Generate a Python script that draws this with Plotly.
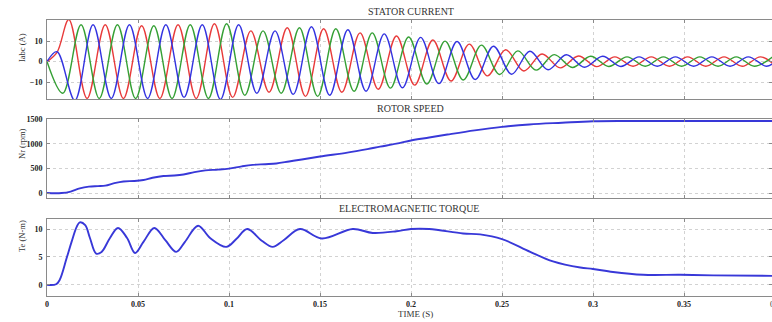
import plotly.graph_objects as go

# ---------------- data ----------------
# Stator current: extrema (peaks / troughs) of each phase, time in s, current in A
ia_t = [0.0, 0.0055, 0.012, 0.022, 0.032, 0.042, 0.052, 0.062, 0.072, 0.082, 0.092, 0.102,
        0.112, 0.122, 0.132, 0.142, 0.152, 0.162, 0.172, 0.182, 0.192, 0.202, 0.212, 0.222,
        0.232, 0.242, 0.252, 0.262, 0.272, 0.282, 0.292, 0.302, 0.312, 0.322, 0.332, 0.342,
        0.352, 0.362, 0.372, 0.382, 0.392, 0.4]
ia_v = [0.0, 4.5, 20.5, -18, 18, -18, 17.5, -18, 18, -18, 18.5, -17.5,
        15, -15, 16.5, -17, 16, -15, 14, -13.5, 12.5, -11.5, 10.5, -9.5,
        8.5, -7, 5.8, -4.6, 3.7, -3.1, 2.7, -2.5, 2.3, -2.3, 2.3, -2.3,
        2.3, -2.3, 2.3, -2.3, 2.3, -1.9]

ib_t = [0.0, 0.0087, 0.0187, 0.0287, 0.0387, 0.0487, 0.0587, 0.0687, 0.0787, 0.0887, 0.0987,
        0.1087, 0.1187, 0.1287, 0.1387, 0.1487, 0.1587, 0.1687, 0.1787, 0.1887, 0.1987,
        0.2087, 0.2187, 0.2287, 0.2387, 0.2487, 0.2587, 0.2687, 0.2787, 0.2887, 0.2987,
        0.3087, 0.3187, 0.3287, 0.3387, 0.3487, 0.3587, 0.3687, 0.3787, 0.3887, 0.3987]
ib_v = [0.0, -15.5, 18, -18, 18, -18, 17.5, -18, 18, -18, 18.5,
        -16.5, 15, -15.5, 16.5, -17, 16, -14.5, 14, -13, 12,
        -11, 10, -9, 8, -6.3, 5.2, -4.2, 3.4, -2.9, 2.6,
        -2.4, 2.3, -2.3, 2.3, -2.3, 2.3, -2.3, 2.3, -2.3, 2.3]

ic_t = [0.0, 0.0055, 0.0153, 0.0253, 0.0353, 0.0453, 0.0553, 0.0653, 0.0753, 0.0853, 0.0953,
        0.1053, 0.1153, 0.1253, 0.1353, 0.1453, 0.1553, 0.1653, 0.1753, 0.1853, 0.1953,
        0.2053, 0.2153, 0.2253, 0.2353, 0.2453, 0.2553, 0.2653, 0.2753, 0.2853, 0.2953,
        0.3053, 0.3153, 0.3253, 0.3353, 0.3453, 0.3553, 0.3653, 0.3753, 0.3853, 0.3953, 0.4]
ic_v = [0.0, 4.8, -19, 18, -18, 18, -18, 18, -17.5, 18, -18.5,
        18, -15.5, 15, -16, 17, -16.5, 15.5, -14.5, 13.5, -12.8,
        11.8, -10.8, 9.8, -8.8, 7.5, -6.2, 5, -4, 3.3, -2.8,
        2.6, -2.4, 2.3, -2.3, 2.3, -2.3, 2.3, -2.3, 2.3, -2.3, -0.2]

# Rotor speed (rpm)
nr_t = [0.0, 0.008, 0.013, 0.018, 0.023, 0.028, 0.032, 0.037, 0.042, 0.048, 0.053, 0.058,
        0.064, 0.07, 0.075, 0.081, 0.087, 0.094, 0.1, 0.107, 0.113, 0.12, 0.126, 0.133,
        0.14, 0.15, 0.165, 0.176, 0.183, 0.192, 0.2, 0.21, 0.22, 0.235, 0.25, 0.265,
        0.283, 0.3, 0.32, 0.36, 0.4]
nr_v = [0, 0, 30, 95, 130, 140, 150, 200, 235, 245, 265, 310,
        345, 355, 375, 425, 460, 475, 495, 540, 570, 585, 600, 640,
        680, 740, 820, 890, 940, 1000, 1065, 1125, 1185, 1270, 1340, 1390,
        1425, 1455, 1460, 1460, 1460]

# Electromagnetic torque (N-m)
te_t = [0.0, 0.005, 0.007, 0.0108, 0.0135, 0.0163, 0.018, 0.021, 0.0236, 0.027, 0.030,
        0.0346, 0.039, 0.044, 0.0484, 0.053, 0.059, 0.065, 0.071, 0.0758, 0.083, 0.0896,
        0.0985, 0.104, 0.11, 0.118, 0.124, 0.13, 0.139, 0.151, 0.168, 0.179, 0.192, 0.2,
        0.21, 0.2286, 0.238, 0.25, 0.2655, 0.278, 0.293, 0.3, 0.311, 0.3275, 0.348,
        0.366, 0.4]
te_v = [0.0, 0.1, 0.9, 4.8, 7.7, 10.4, 11.2, 10.7, 8.4, 5.6, 5.9,
        8.4, 10.2, 8.4, 5.7, 7.7, 10.2, 8.0, 5.9, 7.7, 10.6, 8.4,
        6.8, 8.2, 10.0, 7.9, 6.8, 8.0, 10.0, 8.3, 10.0, 9.3, 9.6, 10.0,
        10.0, 9.2, 9.05, 8.2, 5.9, 4.2, 3.1, 2.85, 2.3, 1.8, 1.8,
        1.7, 1.6]

x_tickvals = [0, 0.05, 0.1, 0.15, 0.2, 0.25, 0.3, 0.35]
x_ticktext = ["0", "0.05", "0.1", "0.15", "0.2", "0.25", "0.3", "0.35"]

# ---------------- figure ----------------
W, H = 772, 322
L = 47
FONT = "Liberation Serif"

fig = go.Figure()
fig.add_trace(go.Scatter(x=ia_t, y=ia_v, mode="lines", line=dict(color="#e83a3a", width=1.4, shape="spline"),
                         xaxis="x", yaxis="y", showlegend=False))
fig.add_trace(go.Scatter(x=ib_t, y=ib_v, mode="lines", line=dict(color="#35a035", width=1.4, shape="spline"),
                         xaxis="x", yaxis="y", showlegend=False))
fig.add_trace(go.Scatter(x=ic_t, y=ic_v, mode="lines", line=dict(color="#3333e0", width=1.4, shape="spline"),
                         xaxis="x", yaxis="y", showlegend=False))
fig.add_trace(go.Scatter(x=nr_t, y=nr_v, mode="lines", line=dict(color="#3838d8", width=1.9, shape="spline"),
                         xaxis="x2", yaxis="y2", showlegend=False))
fig.add_trace(go.Scatter(x=te_t, y=te_v, mode="lines", line=dict(color="#3838d8", width=1.9, shape="spline"),
                         xaxis="x3", yaxis="y3", showlegend=False))

def dom(top_px, bot_px):
    return [1 - bot_px / H, 1 - top_px / H]

xr = [0, 0.4 * (W - L) / 728.0]
axis_common = dict(showline=True, linecolor="#8a8a8a", linewidth=1, mirror="ticks",
                   ticks="inside", ticklen=3, tickcolor="#8a8a8a",
                   showgrid=True, gridcolor="#d2d2d2", griddash="dot", gridwidth=1,
                   zeroline=False, automargin=False,
                   tickfont=dict(family=FONT, size=8, color="#222", weight="bold"))

def xax(anchor, labels):
    d = dict(axis_common)
    d.update(range=xr, domain=[0, 1], anchor=anchor, tickvals=x_tickvals,
             ticktext=x_ticktext, showticklabels=labels)
    return d

def yax(anchor, rng, tv, top_px, bot_px):
    d = dict(axis_common)
    d.update(range=rng, domain=dom(top_px, bot_px), anchor=anchor, tickvals=tv,
             ticklabelstandoff=2)
    return d

fig.update_layout(
    width=W, height=H,
    margin=dict(l=L, r=0, t=0, b=0, autoexpand=False),
    paper_bgcolor="white", plot_bgcolor="white",
    xaxis=xax("y", False),
    xaxis2=xax("y2", False),
    xaxis3=xax("y3", True),
    yaxis=yax("x", [-18.3, 20.3], [-10, 0, 10], 20, 99),
    yaxis2=yax("x2", [-100, 1500], [0, 500, 1000, 1500], 119, 198),
    yaxis3=yax("x3", [-2.0, 11.8], [0, 5, 10], 219, 296),
)

def px_x(px):
    return (px - L) / (W - L)

def px_y(py):
    return 1 - py / H

anns = [
    ("STATOR CURRENT", 411, 11, 10, 0),
    ("ROTOR SPEED", 410, 109, 10, 0),
    ("ELECTROMAGNETIC TORQUE", 409, 209, 10, 0),
    ("TIME (S)", 415, 314, 9, 0),
    ("Iabc (A)", 22, 48, 8.5, -90),
    ("Nr (rpm)", 22, 144, 8.5, -90),
    ("Te (N-m)", 22, 236, 8.5, -90),
    ("0.4", 775, 304, 8, 0),
]
for text, x, y, s, ang in anns:
    fig.add_annotation(text=text, xref="paper", yref="paper", x=px_x(x), y=px_y(y),
                       xanchor="center", yanchor="middle", showarrow=False, textangle=ang,
                       font=dict(family=FONT, size=s, color="#333"))

fig.write_html("out.html", config={"displayModeBar": False},
               post_script="document.body.style.margin='0';document.body.style.overflow='hidden';")
